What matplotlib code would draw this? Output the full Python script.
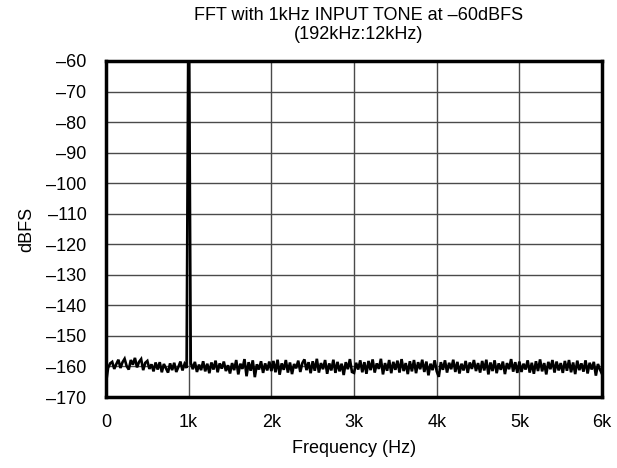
import matplotlib
matplotlib.use("Agg")
import matplotlib.pyplot as plt
import numpy as np

plt.rcParams['font.family'] = ['Liberation Sans', 'DejaVu Sans']

title = "FFT with 1kHz INPUT TONE at \u201360dBFS\n(192kHz:12kHz)"
xlabel = "Frequency (Hz)"
ylabel = "dBFS"
xticks = [0, 1000, 2000, 3000, 4000, 5000, 6000]
xticklabels = ["0", "1k", "2k", "3k", "4k", "5k", "6k"]
yticks = [-170, -160, -150, -140, -130, -120, -110, -100, -90, -80, -70, -60]

# noise floor, 25 Hz bins
seg0 = [-165.5, -160.5, -159.0, -158.5, -160.8, -159.2, -157.8, -160.5, -158.6, -157.5,
        -159.9, -161.0, -157.9, -159.4, -157.2, -160.3, -158.5, -157.6, -161.2, -158.8]
seg1 = [-158.2, -160.8, -159.3, -161.6, -158.7, -161.0, -158.6, -161.9, -159.2, -160.6,
        -162.0, -159.0, -161.2, -158.8, -161.8, -160.2, -158.4, -161.3, -159.2, -160.5]
tone_freq = [994, 1000, 1006]
tone_db = [-58, -55, -58]
seg2 = [-158.8, -160.9, -158.5, -161.8, -159.4, -161.2, -158.3, -161.6, -159.1, -162.2,
        -158.7, -161.0, -158.1, -161.9, -159.0, -160.7, -158.4, -161.5, -159.6]
seg3 = [-162.3, -158.9, -161.2, -157.9, -162.6, -159.1, -160.8, -157.6, -163.2, -158.6,
        -161.4, -158.0, -163.5, -159.3, -161.0, -158.3, -162.1, -159.0, -161.3, -158.4]
seg4 = [-161.5, -158.2, -161.9, -157.8, -162.7, -159.0, -161.1, -157.9, -162.0, -158.7,
        -162.5, -159.2, -160.6, -158.1, -161.8, -158.9, -157.7, -161.2, -158.6, -162.2]
seg5 = [-158.3, -161.4, -157.5, -162.0, -158.9, -160.9, -157.9, -162.4, -159.0, -161.3,
        -157.8, -162.1, -158.5, -161.6, -159.1, -162.8, -158.6, -160.9, -157.6, -161.8]
seg6 = [-162.1, -158.8, -161.0, -158.0, -161.9, -158.6, -162.4, -158.2, -161.2, -157.7,
        -162.0, -159.0, -160.8, -157.5, -162.6, -158.9, -161.4, -157.9, -162.2, -158.5]
seg7 = [-161.1, -158.1, -162.0, -157.6, -161.5, -158.9, -162.5, -158.3, -161.6, -157.9,
        -162.2, -158.6, -160.9, -157.8, -161.8, -158.4, -162.9, -159.1, -161.2, -158.0]
seg8 = [-161.6, -163.4, -158.6, -161.1, -158.0, -162.0, -158.8, -160.9, -157.8, -161.8,
        -158.5, -162.3, -159.1, -161.3, -158.2, -162.1, -158.7, -160.8, -157.9, -161.5]
seg9 = [-158.9, -162.0, -158.2, -161.3, -157.8, -162.6, -158.7, -161.5, -158.0, -162.2,
        -159.0, -161.1, -158.4, -162.5, -158.9, -160.9, -157.6, -161.7, -158.6, -162.1]
seg10 = [-158.4, -161.8, -159.1, -161.0, -158.0, -162.0, -158.8, -162.4, -158.3, -161.5,
         -157.7, -161.6, -158.9, -162.6, -158.5, -160.9, -157.9, -162.0, -158.4, -161.3]
seg11 = [-158.9, -162.1, -158.2, -161.4, -157.9, -161.9, -158.7, -162.5, -158.1, -161.2,
         -159.0, -161.7, -158.0, -162.3, -158.8, -161.0, -158.5, -163.0, -159.2, -161.0]
seg_end = [-162.5]

grid_f = np.arange(0, 6001, 25)
low_f = grid_f[grid_f < 1000]
high_f = grid_f[grid_f > 1000]
freq = np.concatenate([low_f, tone_freq, high_f])
dbfs = (seg0 + seg1 + tone_db + seg2 + seg3 + seg4 + seg5 + seg6 + seg7
        + seg8 + seg9 + seg10 + seg11 + seg_end)
assert len(freq) == len(dbfs)

fig = plt.figure(figsize=(6.17, 4.68), dpi=100)
ax = fig.add_axes([0.1718, 0.1517, 0.804, 0.718])
ax.plot(freq, dbfs, color='black', linewidth=1.9, solid_joinstyle='miter')
ax.set_xlim(0, 6000)
ax.set_ylim(-170, -60)
ax.set_xticks(xticks)
ax.set_xticklabels(xticklabels)
ax.set_yticks(yticks)
ax.set_yticklabels([("\u2013%d" % -v) for v in yticks])
ax.grid(True, color='#4a4a4a', linewidth=1.0)
ax.set_axisbelow(True)
for s in ax.spines.values():
    s.set_linewidth(2.5)
    s.set_color('black')
ax.tick_params(length=0, labelsize=13)
ax.tick_params(axis='x', pad=12)
ax.tick_params(axis='y', pad=14)
ax.set_xlabel(xlabel, fontsize=13, labelpad=7)
ax.set_ylabel(ylabel, fontsize=13, labelpad=8)
ax.set_title(title, fontsize=13, pad=16, linespacing=1.12, x=0.51)
fig.savefig("out.png", dpi=100)
